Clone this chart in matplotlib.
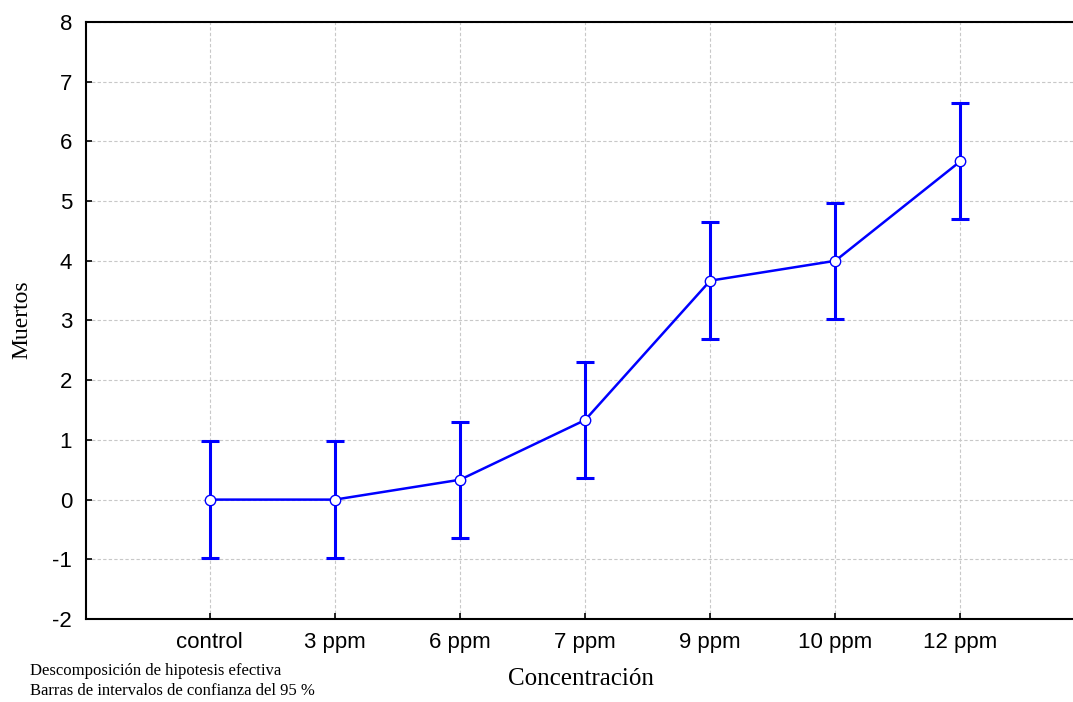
import matplotlib.pyplot as plt

# Mortality by concentration, means with 95 % confidence intervals
categories = ["control", "3 ppm", "6 ppm", "7 ppm", "9 ppm", "10 ppm", "12 ppm"]
muertos = [0.0, 0.0, 0.333, 1.333, 3.667, 4.0, 5.667]
ci_half = [0.975, 0.975, 0.975, 0.975, 0.975, 0.975, 0.975]
yticks = list(range(-2, 9))

plt.rcParams["axes.unicode_minus"] = False

fig = plt.figure(figsize=(10.73, 7.02), dpi=100)
ax = fig.add_axes([0.0801, 0.1182, 0.9199, 0.8505])

xs = list(range(len(categories)))
ax.errorbar(xs, muertos, yerr=ci_half, color="#0000ff", elinewidth=2.2,
            capsize=6.5, capthick=2.2, fmt="none", zorder=3)
ax.plot(xs, muertos, color="#0000ff", lw=1.8, zorder=3)
ax.plot(xs, muertos, linestyle="none", marker="o", markersize=7.5,
        markerfacecolor="white", markeredgecolor="#0000ff", markeredgewidth=1.0,
        zorder=4)

ax.set_xlim(-0.99, 6.9)
ax.set_ylim(-2, 8)
ax.set_xticks(xs)
ax.set_xticklabels(categories)
ax.set_yticks(yticks)

ax.grid(True, color="#c8c8c8", linestyle=(0, (3, 2)), linewidth=0.8)
ax.set_axisbelow(True)
for s in ("left", "bottom", "top"):
    ax.spines[s].set_linewidth(1.5)
ax.spines["right"].set_visible(False)

ax.tick_params(direction="in", length=4, width=1.2, labelsize=16, pad=9,
               labelfontfamily="Liberation Sans")
ax.tick_params(axis="y", pad=10)

fig.text(0.0205, 0.545, "Muertos", rotation=90, ha="center", va="center",
         fontsize=17, family="Liberation Serif")
fig.text(0.5415, 0.017, "Concentración", ha="center", va="bottom",
         fontsize=18, family="Liberation Serif")
fig.text(0.028, 0.033, "Descomposición de hipotesis efectiva", ha="left",
         va="bottom", fontsize=12, family="Liberation Serif")
fig.text(0.028, 0.004, "Barras de intervalos de confianza del 95 %", ha="left",
         va="bottom", fontsize=12, family="Liberation Serif")

fig.savefig("out.png", dpi=100)
